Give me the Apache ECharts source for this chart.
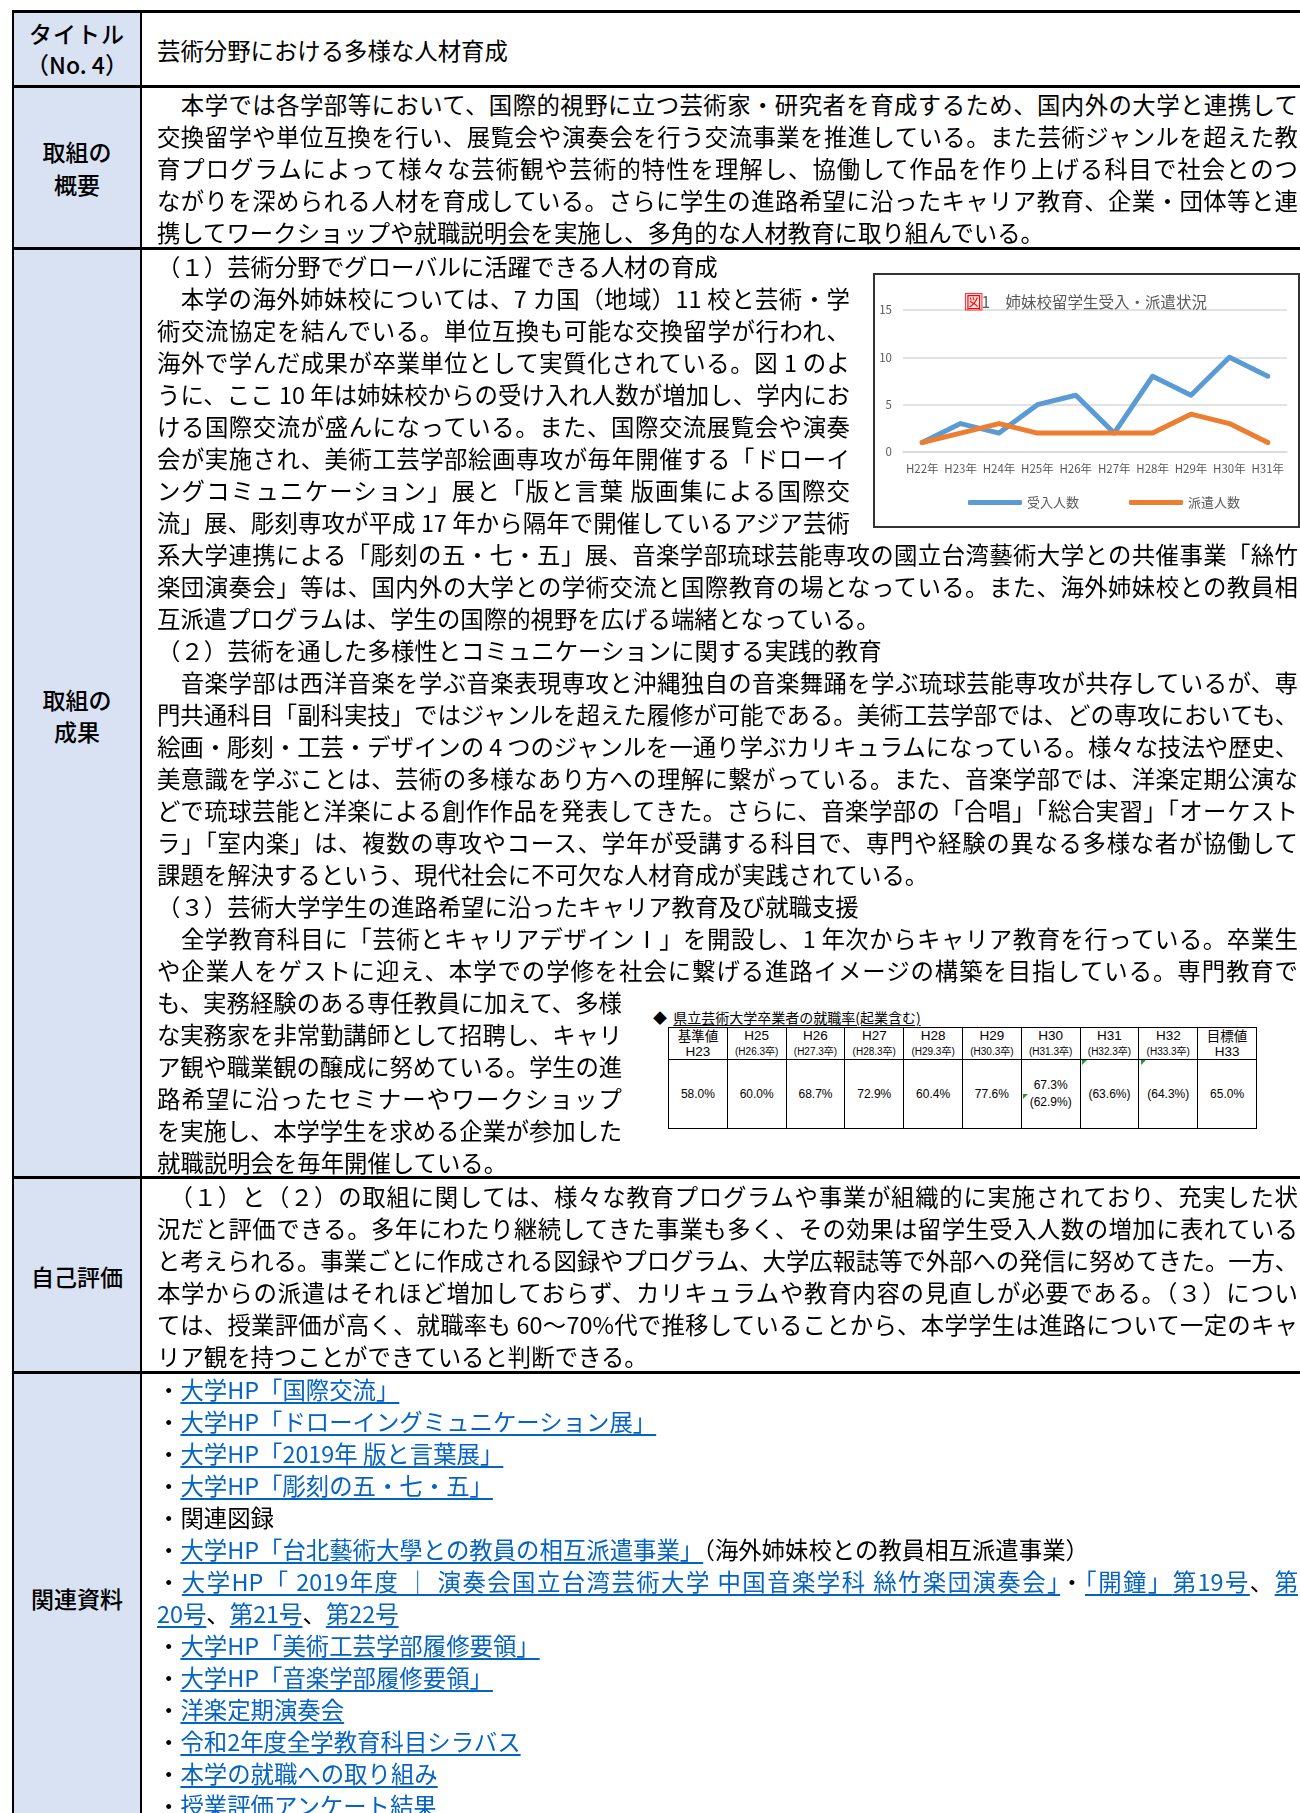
<!DOCTYPE html>
<html lang="ja">
<head>
<meta charset="utf-8">
<title>芸術分野における多様な人材育成</title>
<script src="https://cdn.jsdelivr.net/npm/echarts@6/dist/echarts.min.js"></script>
<style>
html, body { margin: 0; padding: 0; background: #fff; }
#page { position: relative; width: 1300px; height: 1813px; overflow: hidden; font-family: 'Noto Sans CJK JP', 'Noto Sans', sans-serif; color: #000; }
#side { position: absolute; left: 14px; top: 13px; width: 126px; height: 1800px; background: #d9e2f3; }
.vl { position: absolute; top: 10px; width: 2px; height: 1803px; background: #000; }
.hl { position: absolute; left: 12px; right: 0; height: 3px; background: #000; }
.lbl { position: absolute; left: 14px; width: 126px; text-align: center; font-size: 23px; font-weight: 500; line-height: 32px; }
.ln { position: absolute; line-height: 32px; font-size: 23.4px; }
.ln.j { text-align: justify; text-align-last: justify; }
.ln.l { white-space: nowrap; }
a { color: #0563c1; text-decoration: underline; text-decoration-thickness: 1.5px; text-underline-offset: 3px; }
#chart-box { position: absolute; left: 873px; top: 273px; width: 427px; height: 255px; border: 2px solid #333; box-sizing: border-box; background: #fff; }
#chart { width: 423px; height: 251px; }
#rate-title { position: absolute; left: 653px; top: 1008px; font-size: 14px; line-height: 19px; white-space: nowrap; }
#rate-title span { text-decoration: underline; text-underline-offset: 2px; }
#rate { position: absolute; left: 668px; top: 1027px; width: 589px; border-collapse: collapse; table-layout: fixed; font-family: 'Liberation Sans', 'Noto Sans CJK JP', sans-serif; }
#rate td { border: 1px solid #000; text-align: center; vertical-align: middle; padding: 0; }
#rate tr.h td { height: 31px; font-size: 13.5px; line-height: 15px; }
#rate tr.h small { font-size: 10px; }
#rate tr.v td { height: 68px; font-size: 12px; line-height: 17px; }
.mk { position: absolute; width: 0; height: 0; border-top: 5px solid #1f9d2a; border-right: 5px solid transparent; }
</style>
</head>
<body>
<div id="page">
  <div id="side"></div>
  <div class="vl" style="left:12px"></div>
  <div class="vl" style="left:140px"></div>
  <div class="hl" style="top:10px"></div>
  <div class="hl" style="top:85px"></div>
  <div class="hl" style="top:247px"></div>
  <div class="hl" style="top:1176px"></div>
  <div class="hl" style="top:1371px"></div>

  <div class="lbl" style="top:17px; letter-spacing:1px">タイトル</div>
  <div class="lbl" style="top:48px">（No. 4）</div>
  <div class="lbl" style="top:135px">取組の</div>
  <div class="lbl" style="top:168px">概要</div>
  <div class="lbl" style="top:683px">取組の</div>
  <div class="lbl" style="top:715px">成果</div>
  <div class="lbl" style="top:1260px">自己評価</div>
  <div class="lbl" style="top:1582px">関連資料</div>

  <div id="chart-box"><div id="chart"></div></div>

  <div id="rate-title">◆&nbsp;&nbsp;<span>県立芸術大学卒業者の就職率(起業含む)</span></div>
  <table id="rate"></table>
  <div class="mk" style="left:1023px;top:1094px"></div>
  <div class="mk" style="left:1082px;top:1060px"></div>
  <div class="mk" style="left:1141px;top:1060px"></div>
</div>

<script>
// 図1 data
var years = ['H22年', 'H23年', 'H24年', 'H25年', 'H26年', 'H27年', 'H28年', 'H29年', 'H30年', 'H31年'];
var ukeire = [1, 3, 2, 5, 6, 2, 8, 6, 10, 8];
var haken = [1, 2, 3, 2, 2, 2, 2, 4, 3, 1];

// 就職率 table
var rateHead = ['基準値', 'H25', 'H26', 'H27', 'H28', 'H29', 'H30', 'H31', 'H32', '目標値'];
var rateSub = ['H23', '(H26.3卒)', '(H27.3卒)', '(H28.3卒)', '(H29.3卒)', '(H30.3卒)', '(H31.3卒)', '(H32.3卒)', '(H33.3卒)', 'H33'];
var rateVals = ['58.0%', '60.0%', '68.7%', '72.9%', '60.4%', '77.6%', '67.3%<br>(62.9%)', '(63.6%)', '(64.3%)', '65.0%'];

// f = full width, c = beside chart, t = beside table, l = last line
var gaiyou = [
    ['f', '　本学では各学部等において、国際的視野に立つ芸術家・研究者を育成するため、国内外の大学と連携して'],
    ['f', '交換留学や単位互換を行い、展覧会や演奏会を行う交流事業を推進している。また芸術ジャンルを超えた教'],
    ['f', '育プログラムによって様々な芸術観や芸術的特性を理解し、協働して作品を作り上げる科目で社会とのつ'],
    ['f', 'ながりを深められる人材を育成している。さらに学生の進路希望に沿ったキャリア教育、企業・団体等と連'],
    ['l', '携してワークショップや就職説明会を実施し、多角的な人材教育に取り組んでいる。']
];
var seika = [
    ['l', '（１）芸術分野でグローバルに活躍できる人材の育成'],
    ['c', '　本学の海外姉妹校については、7 カ国（地域）11 校と芸術・学'],
    ['c', '術交流協定を結んでいる。単位互換も可能な交換留学が行われ、'],
    ['c', '海外で学んだ成果が卒業単位として実質化されている。図 1 のよ'],
    ['c', 'うに、ここ 10 年は姉妹校からの受け入れ人数が増加し、学内にお'],
    ['c', 'ける国際交流が盛んになっている。また、国際交流展覧会や演奏'],
    ['c', '会が実施され、美術工芸学部絵画専攻が毎年開催する「ドローイ'],
    ['c', 'ングコミュニケーション」展と「版と言葉 版画集による国際交'],
    ['c', '流」展、彫刻専攻が平成 17 年から隔年で開催しているアジア芸術'],
    ['f', '系大学連携による「彫刻の五・七・五」展、音楽学部琉球芸能専攻の國立台湾藝術大学との共催事業「絲竹'],
    ['f', '楽団演奏会」等は、国内外の大学との学術交流と国際教育の場となっている。また、海外姉妹校との教員相'],
    ['l', '互派遣プログラムは、学生の国際的視野を広げる端緒となっている。'],
    ['l', '（２）芸術を通した多様性とコミュニケーションに関する実践的教育'],
    ['f', '　音楽学部は西洋音楽を学ぶ音楽表現専攻と沖縄独自の音楽舞踊を学ぶ琉球芸能専攻が共存しているが、専'],
    ['f', '門共通科目「副科実技」ではジャンルを超えた履修が可能である。美術工芸学部では、どの専攻においても、'],
    ['f', '絵画・彫刻・工芸・デザインの 4 つのジャンルを一通り学ぶカリキュラムになっている。様々な技法や歴史、'],
    ['f', '美意識を学ぶことは、芸術の多様なあり方への理解に繋がっている。また、音楽学部では、洋楽定期公演な'],
    ['f', 'どで琉球芸能と洋楽による創作作品を発表してきた。さらに、音楽学部の「合唱」「総合実習」「オーケスト'],
    ['f', 'ラ」「室内楽」は、複数の専攻やコース、学年が受講する科目で、専門や経験の異なる多様な者が協働して'],
    ['l', '課題を解決するという、現代社会に不可欠な人材育成が実践されている。'],
    ['l', '（３）芸術大学学生の進路希望に沿ったキャリア教育及び就職支援'],
    ['f', '　全学教育科目に「芸術とキャリアデザインⅠ」を開設し、1 年次からキャリア教育を行っている。卒業生'],
    ['f', 'や企業人をゲストに迎え、本学での学修を社会に繋げる進路イメージの構築を目指している。専門教育で'],
    ['t', 'も、実務経験のある専任教員に加えて、多様'],
    ['t', 'な実務家を非常勤講師として招聘し、キャリ'],
    ['t', 'ア観や職業観の醸成に努めている。学生の進'],
    ['t', '路希望に沿ったセミナーやワークショップ'],
    ['t', 'を実施し、本学学生を求める企業が参加した'],
    ['l', '就職説明会を毎年開催している。']
];
var hyoka = [
    ['f', '　（１）と（２）の取組に関しては、様々な教育プログラムや事業が組織的に実施されており、充実した状'],
    ['f', '況だと評価できる。多年にわたり継続してきた事業も多く、その効果は留学生受入人数の増加に表れている'],
    ['f', 'と考えられる。事業ごとに作成される図録やプログラム、大学広報誌等で外部への発信に努めてきた。一方、'],
    ['f', '本学からの派遣はそれほど増加しておらず、カリキュラムや教育内容の見直しが必要である。（３）につい'],
    ['f', 'ては、授業評価が高く、就職率も 60～70%代で推移していることから、本学学生は進路について一定のキャ'],
    ['l', 'リア観を持つことができていると判断できる。']
];
// 0 = plain text, 1 = link
var shiryo = [
    ['l', [['・', 0], ['大学HP「国際交流」', 1]]],
    ['l', [['・', 0], ['大学HP「ドローイングミュニケーション展」', 1]]],
    ['l', [['・', 0], ['大学HP「2019年 版と言葉展」', 1]]],
    ['l', [['・', 0], ['大学HP「彫刻の五・七・五」', 1]]],
    ['l', [['・関連図録', 0]]],
    ['l', [['・', 0], ['大学HP「台北藝術大學との教員の相互派遣事業」', 1], ['（海外姉妹校との教員相互派遣事業）', 0]]],
    ['f', [['・', 0], ['大学HP「 2019年度 ｜ 演奏会国立台湾芸術大学 中国音楽学科 絲竹楽団演奏会」', 1], ['・', 0], ['「開鐘」', 1], ['第19号', 1], ['、', 0], ['第', 1]]],
    ['l', [['20号', 1], ['、', 0], ['第21号', 1], ['、', 0], ['第22号', 1]]],
    ['l', [['・', 0], ['大学HP「美術工芸学部履修要領」', 1]]],
    ['l', [['・', 0], ['大学HP「音楽学部履修要領」', 1]]],
    ['l', [['・', 0], ['洋楽定期演奏会', 1]]],
    ['l', [['・', 0], ['令和2年度全学教育科目シラバス', 1]]],
    ['l', [['・', 0], ['本学の就職への取り組み', 1]]],
    ['l', [['・', 0], ['授業評価アンケート結果', 1]]]
];

var page = document.getElementById('page');
var textLeft = 157;
var widths = { f: 1141, c: 693, t: 465, l: 1141 };

function putLine(kind, html, top) {
    var d = document.createElement('div');
    d.className = 'ln ' + (kind == 'l' ? 'l' : 'j');
    d.style.top = top + 'px';
    d.style.left = textLeft + 'px';
    d.style.width = widths[kind] + 'px';
    d.innerHTML = html;
    page.appendChild(d);
    // squeeze a line that would wrap
    var ls = 0;
    while (kind != 'l' && d.offsetHeight > 40 && ls > -3) {
        ls -= 0.25;
        d.style.letterSpacing = ls + 'px';
    }
}

function putBlock(lines, top) {
    lines.forEach(function (l, i) {
        putLine(l[0], l[1], top + i * 32);
    });
}

putLine('l', '芸術分野における多様な人材育成', 34);
putBlock(gaiyou, 88);
putBlock(seika, 250);
putBlock(hyoka, 1180);
shiryo.forEach(function (l, i) {
    var html = l[1].map(function (s) {
        return s[1] ? '<a>' + s[0] + '</a>' : s[0];
    }).join('');
    putLine(l[0], html, 1373 + i * 32);
});

// 就職率 table
var tbl = document.getElementById('rate');
var h = '<tr class="h">';
rateHead.forEach(function (t, i) {
    var sub = (i == 0 || i == rateHead.length - 1) ? rateSub[i] : '<small>' + rateSub[i] + '</small>';
    h += '<td>' + t + '<br>' + sub + '</td>';
});
h += '</tr><tr class="v">';
rateVals.forEach(function (v) {
    h += '<td>' + v + '</td>';
});
h += '</tr>';
tbl.innerHTML = h;

// 図1
var chart = echarts.init(document.getElementById('chart'));
var font = "'Noto Sans CJK JP', 'Noto Sans', sans-serif";
var option = {
    animation: false,
    textStyle: { fontFamily: font },
    title: {
        text: '{r|図}1　姉妹校留学生受入・派遣状況',
        left: 'center',
        top: 19,
        padding: 0,
        textStyle: {
            fontSize: 15.5,
            fontWeight: 'normal',
            color: '#595959',
            fontFamily: font,
            rich: {
                r: { fontSize: 15.5, color: '#ff0000', borderColor: '#ff3030', borderWidth: 1, backgroundColor: '#ffe6e6', fontFamily: font }
            }
        }
    },
    legend: {
        data: ['受入人数', '派遣人数'],
        left: 93,
        top: 221,
        padding: 0,
        itemGap: 50,
        itemWidth: 54,
        itemHeight: 5,
        icon: 'roundRect',
        textStyle: { fontSize: 13, color: '#595959', fontFamily: font }
    },
    grid: { left: 28, right: 11, top: 35, bottom: 74, containLabel: false, outerBoundsMode: 'none' },
    xAxis: {
        type: 'category',
        data: years,
        boundaryGap: true,
        axisLine: { lineStyle: { color: '#d9d9d9', width: 1.5 } },
        axisTick: { show: false },
        axisLabel: { interval: 0, margin: 11, fontSize: 11.5, color: '#595959', fontFamily: font }
    },
    yAxis: {
        type: 'value',
        min: 0,
        max: 15,
        interval: 5,
        axisLine: { show: false },
        axisTick: { show: false },
        splitLine: { lineStyle: { color: '#d9d9d9', width: 1.5 } },
        axisLabel: { margin: 11, fontSize: 11.5, color: '#595959', fontFamily: font }
    },
    series: [
        {
            name: '受入人数',
            type: 'line',
            data: ukeire,
            symbol: 'none',
            itemStyle: { color: '#5b9bd5' },
            lineStyle: { width: 5, color: '#5b9bd5', cap: 'round', join: 'round' }
        },
        {
            name: '派遣人数',
            type: 'line',
            data: haken,
            symbol: 'none',
            itemStyle: { color: '#ed7d31' },
            lineStyle: { width: 5, color: '#ed7d31', cap: 'round', join: 'round' }
        }
    ]
};
chart.setOption(option);
</script>
</body>
</html>
